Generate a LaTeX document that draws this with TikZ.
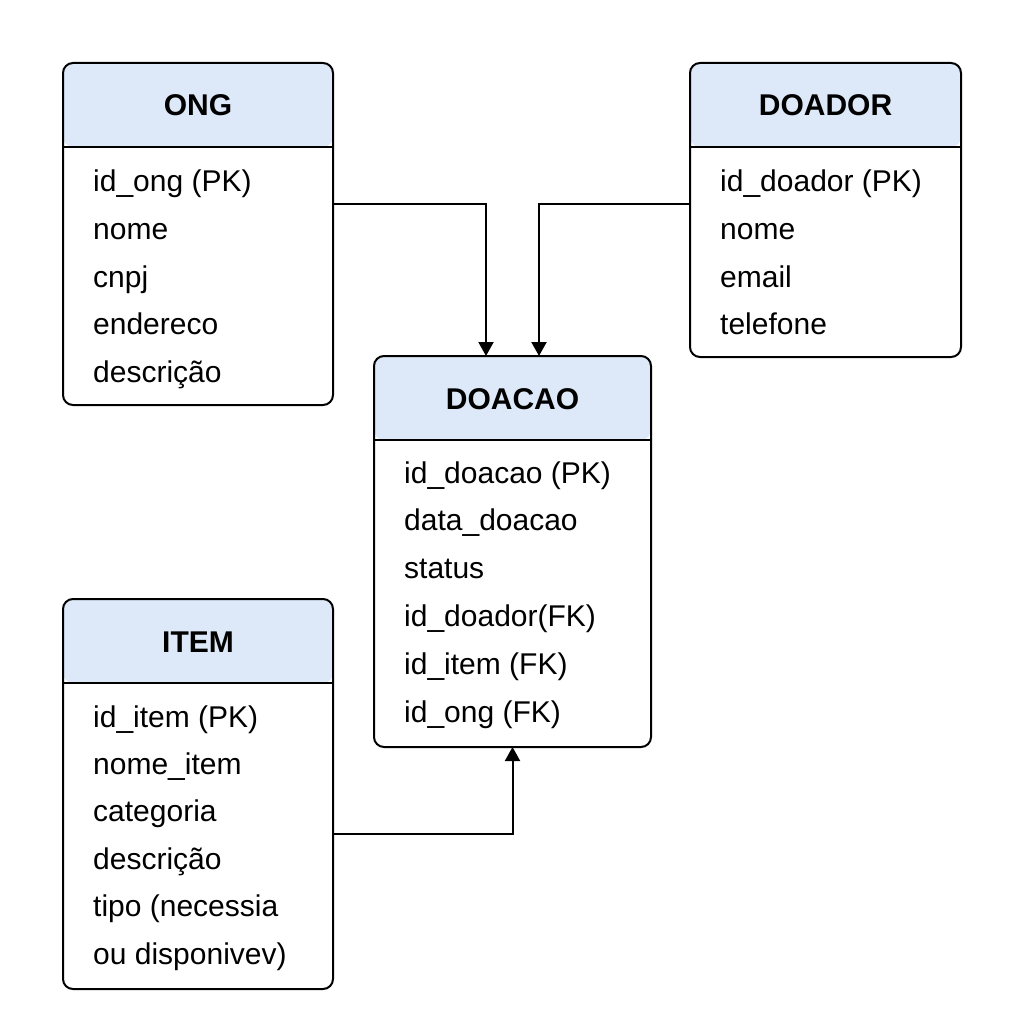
\documentclass[tikz,border=0pt]{standalone}
\usepackage{fontspec}
\setmainfont{Liberation Sans}
\usetikzlibrary{arrows.meta}
\definecolor{hdrblue}{HTML}{DDE9F8}
\tikzset{
	entity/.style={draw, line width=2pt, rounded corners=10pt, outer sep=0pt, inner sep=0pt,
		path picture={
			\fill[hdrblue] (path picture bounding box.north west) rectangle ([yshift=-84pt]path picture bounding box.north east);
			\draw[line width=2pt] ([yshift=-84pt]path picture bounding box.north west) -- ([yshift=-84pt]path picture bounding box.north east);
		}},
	title/.style={anchor=base, inner sep=0pt, font=\fontsize{30}{36}\selectfont\bfseries},
	field/.style={anchor=base west, inner sep=0pt, font=\fontsize{30}{36}\selectfont},
	link/.style={line width=2pt, -{Triangle[width=15pt,length=14pt]}}
}
\begin{document}
\begin{tikzpicture}[x=1pt, y=-1pt]
	\useasboundingbox[fill=white] (0,0) rectangle (1024,1024);
	
	% tables
	\node[entity, minimum width=270pt, minimum height=342pt] (ong) at (198,234) {};
	\node[entity, minimum width=271pt, minimum height=294pt] (doador) at (825.5,210) {};
	\node[entity, minimum width=277pt, minimum height=391pt] (doacao) at (512.5,551.5) {};
	\node[entity, minimum width=270pt, minimum height=390pt] (item) at (198,794) {};
	
	\node[title] (ongtitle) at ([yshift=-53pt]ong.north) {ONG};
	\node[title] (doadortitle) at ([yshift=-53pt]doador.north) {DOADOR};
	\node[title] (doacaotitle) at ([yshift=-53pt]doacao.north) {DOACAO};
	\node[title] (itemtitle) at ([yshift=-53pt]item.north) {ITEM};
	
	% fields
	\foreach \f [count=\i] in {id\_ong (PK), nome, cnpj, endereco, descrição}
	{
		\node[field] (ong\i) at ([xshift=30pt, yshift={-129pt-47.5pt*(\i-1)}]ong.north west) {\f};
	}
	\foreach \f [count=\i] in {id\_doador (PK), nome, email, telefone}
	{
		\node[field] (doador\i) at ([xshift=30pt, yshift={-129pt-47.5pt*(\i-1)}]doador.north west) {\f};
	}
	\foreach \f [count=\i] in {id\_doacao (PK), data\_doacao, status, id\_doador(FK), id\_item (FK), id\_ong (FK)}
	{
		\node[field] (doacao\i) at ([xshift=30pt, yshift={-127pt-47.8pt*(\i-1)}]doacao.north west) {\f};
	}
	\foreach \f [count=\i] in {id\_item (PK), nome\_item, categoria, descrição, tipo (necessia, ou disponivev)}
	{
		\node[field] (item\i) at ([xshift=30pt, yshift={-128pt-47.4pt*(\i-1)}]item.north west) {\f};
	}
	
	% relations
	\draw[link] ([yshift=30pt]ong.east) -| ([xshift=-26.5pt]doacao.north);
	\draw[link] ([yshift=6pt]doador.west) -| ([xshift=26.5pt]doacao.north);
	\draw[link] ([yshift=-40pt]item.east) -| (doacao.south);
	
\end{tikzpicture}
\end{document}
